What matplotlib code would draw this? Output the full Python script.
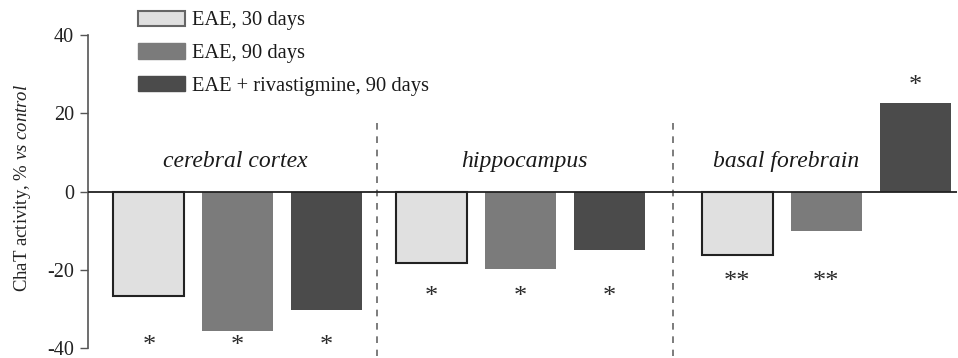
import matplotlib
matplotlib.use("Agg")
import matplotlib.pyplot as plt
import numpy as np

plt.rcParams['font.family'] = 'Liberation Serif'
plt.rcParams['mathtext.fontset'] = 'custom'
plt.rcParams['mathtext.rm'] = 'Liberation Serif'
plt.rcParams['mathtext.it'] = 'Liberation Serif:italic'
plt.rcParams['axes.unicode_minus'] = False

regions = ["cerebral cortex", "hippocampus", "basal forebrain"]
series = ["EAE, 30 days", "EAE, 90 days", "EAE + rivastigmine, 90 days"]
# values per series, one per region (% vs control)
eae_30 = [-26.8, -18.2, -16.2]
eae_90 = [-35.7, -19.7, -10.1]
eae_riva_90 = [-30.4, -14.9, 22.5]
# significance marks per series and their heights
stars_30 = ["*", "*", "**"]
stars_90 = ["*", "*", "**"]
stars_riva = ["*", "*", "*"]
star_y = [-39.6, -27.0, -23.2]
star_y_top = 27.0

group_start = [0.0, 3.18, 6.62]
label_x = [0.97, 4.22, 7.17]
sep_x = [2.57, 5.89]
colors = ["#e0e0e0", "#7b7b7b", "#4b4b4b"]

fig = plt.figure(figsize=(9.58, 3.58), dpi=100)
ax = fig.add_axes([0.0919, 0.0279, 0.9071, 0.8743])

all_vals = [eae_30, eae_90, eae_riva_90]
all_stars = [stars_30, stars_90, stars_riva]
for i, (vals, col) in enumerate(zip(all_vals, colors)):
    xs = np.array(group_start) + i
    if i == 0:
        ax.bar(xs, vals, width=0.8, color=col, edgecolor="#222222", linewidth=1.5, zorder=2)
    else:
        ax.bar(xs, vals, width=0.8, color=col, edgecolor=col, linewidth=0, zorder=2)
    for x, v, s, sy in zip(xs, vals, all_stars[i], star_y):
        y = star_y_top if v > 0 else sy
        ax.text(x, y, s, ha="center", va="center", fontsize=19, color="#2a2a2a", clip_on=False)

ax.axhline(0, color="#222222", linewidth=1.3, zorder=3)
for x in sep_x:
    ax.plot([x, x], [17.5, -42.0], linestyle=(0, (4, 4)), color="#666666", linewidth=1.2, clip_on=False)

for lx, name in zip(label_x, regions):
    ax.text(lx, 7.6, name, ha="center", va="center", fontsize=17, style="italic", color="#1a1a1a")

ax.set_xlim(-0.685, 9.09)
ax.set_ylim(-40, 40)
ax.set_yticks([-40, -20, 0, 20, 40])
ax.tick_params(axis="y", labelsize=14.5, length=6, width=1, color="#555555", pad=4, labelcolor="#222222")
for sp in ["top", "right", "bottom"]:
    ax.spines[sp].set_visible(False)
ax.spines["left"].set_color("#555555")
ax.spines["left"].set_linewidth(1.2)
ax.set_xticks([])
ax.set_ylabel(r"ChaT activity, % $\it{vs\ control}$", fontsize=13.5, color="#222222")
ax.yaxis.set_label_coords(-0.063, 0.51)

leg_patches = [plt.Rectangle((0, 0), 1, 1, facecolor=colors[0], edgecolor="#666666", linewidth=1.5),
               plt.Rectangle((0, 0), 1, 1, facecolor=colors[1], edgecolor=colors[1]),
               plt.Rectangle((0, 0), 1, 1, facecolor=colors[2], edgecolor=colors[2])]
leg = ax.legend(leg_patches, series, loc="upper left", bbox_to_anchor=(0.0575, 1.078), frameon=False,
                fontsize=14.8, handlelength=2.3, handleheight=0.75, labelspacing=0.64, handletextpad=0.35,
                borderaxespad=0, borderpad=0)
for t in leg.get_texts():
    t.set_color("#1a1a1a")

fig.savefig("out.png", dpi=100)
